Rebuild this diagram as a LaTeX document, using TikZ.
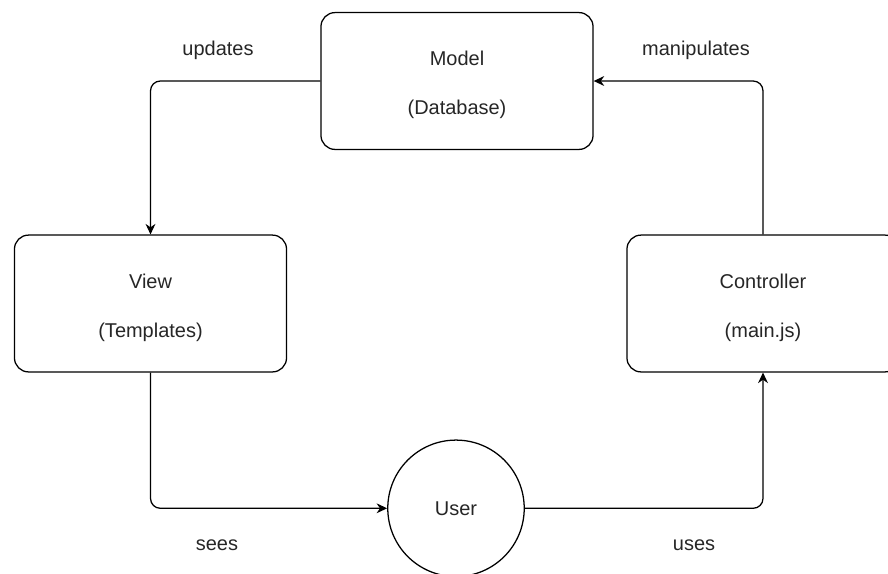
\documentclass[tikz,border=0pt]{standalone}
\usepackage{fontspec}
\setmainfont{Liberation Sans}
\usetikzlibrary{arrows.meta, positioning}
\newcommand*{\mvclabel}{\fontsize{14.2pt}{17.4pt}\selectfont}
\newcommand*{\mvcstrut}{\rule{0pt}{16pt}}

\begin{document}
\begin{tikzpicture}[
      x=0.025cm, y=-0.025cm, >={Stealth[length=7.5pt,width=7pt]},
      every node/.style={font=\mvclabel, text=black!85},
      part/.style={draw, line width=0.9pt, rounded corners=10pt, align=center,
        minimum width=6.8cm, minimum height=3.42cm, inner sep=0pt},
      actor/.style={draw, line width=0.9pt, circle, minimum size=3.41cm, inner sep=0pt},
      flow/.style={->, line width=0.9pt, rounded corners=7pt}
      ]
      \useasboundingbox (0,0) rectangle (888,573);

      \node[part]  (model) at (457,81)    {\mvcstrut Model\\[17.4pt](Database)};
      \node[part]  (view)  at (150.5,303.5) {\mvcstrut View\\[17.4pt](Templates)};
      \node[part]  (ctrl)  at (763,303.5)   {\mvcstrut Controller\\[17.4pt](main.js)};
      \node[actor] (user)  at (456,508.3)   {User};

      \draw[flow] (model.west) -| (view.north);
      \draw[flow] (view.south) |- (user.west);
      \draw[flow] (user.east) -| (ctrl.south);
      \draw[flow] (ctrl.north) |- (model.east);

      \node (updates)     at (218,50)  {updates};
      \node (manipulates) at (696,50)  {manipulates};
      \node (sees)        at (217,545) {sees};
      \node (uses)        at (694,545) {uses};
    \end{tikzpicture}
\end{document}
